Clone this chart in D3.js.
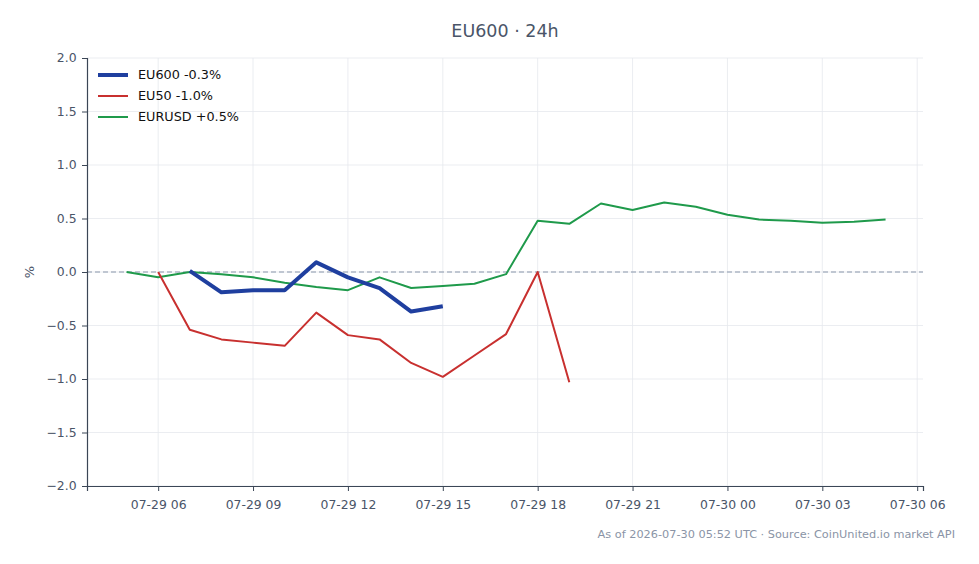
<!DOCTYPE html>
<html>
<head>
<meta charset="utf-8">
<script src="https://cdn.jsdelivr.net/npm/d3@7"></script>
<style>
  body { margin: 0; background: #fff; }
  svg { font-family: "DejaVu Sans", sans-serif; }
</style>
</head>
<body>
<svg id="chart" width="979" height="564"></svg>
<script>
// hourly timestamps (UTC)
var hours = ["2026-07-29T05:00Z","2026-07-29T06:00Z","2026-07-29T07:00Z","2026-07-29T08:00Z",
  "2026-07-29T09:00Z","2026-07-29T10:00Z","2026-07-29T11:00Z","2026-07-29T12:00Z",
  "2026-07-29T13:00Z","2026-07-29T14:00Z","2026-07-29T15:00Z","2026-07-29T16:00Z",
  "2026-07-29T17:00Z","2026-07-29T18:00Z","2026-07-29T19:00Z","2026-07-29T20:00Z",
  "2026-07-29T21:00Z","2026-07-29T22:00Z","2026-07-29T23:00Z","2026-07-30T00:00Z",
  "2026-07-30T01:00Z","2026-07-30T02:00Z","2026-07-30T03:00Z","2026-07-30T04:00Z",
  "2026-07-30T05:00Z"];

var eu600 = [null, null, 0.01, -0.19, -0.17, -0.17, 0.09, -0.05, -0.15, -0.37, -0.32,
  null, null, null, null, null, null, null, null, null, null, null, null, null, null];
var eu50 = [null, 0.0, -0.54, -0.63, -0.66, -0.69, -0.38, -0.59, -0.63, -0.85, -0.98,
  -0.78, -0.58, 0.0, -1.03, null, null, null, null, null, null, null, null, null, null];
var eurusd = [0.0, -0.05, 0.0, -0.02, -0.05, -0.10, -0.14, -0.17, -0.05, -0.15, -0.13,
  -0.11, -0.02, 0.48, 0.45, 0.64, 0.58, 0.65, 0.61, 0.535, 0.49, 0.48, 0.46, 0.47, 0.49];

var seriesNames = ["EU600 -0.3%", "EU50 -1.0%", "EURUSD +0.5%"];
var seriesColors = ["#1f3f9f", "#c8302f", "#1f9a4b"];
var seriesWidths = [4, 2, 2];
var yTicks = [-2.0, -1.5, -1.0, -0.5, 0.0, 0.5, 1.0, 1.5, 2.0];

var svg = d3.select("#chart");
var margin = {left: 87, right: 56, top: 58, bottom: 78};
var W = 979, H = 564;

var times = hours.map(function(h) { return new Date(h); });
var t0 = times[0], t1 = times[times.length - 1];

// axis range runs a little past the data on both sides
var x = d3.scaleUtc()
  .domain([d3.utcMinute.offset(t0, -75), d3.utcMinute.offset(t1, 71)])
  .range([margin.left, W - margin.right]);
var y = d3.scaleLinear()
  .domain([-2, 2])
  .range([H - margin.bottom, margin.top]);

var xTicks = x.ticks(d3.utcHour.every(3));

// grid
var grid = svg.append("g");
grid.selectAll(".gx").data(xTicks).enter().append("line")
  .attr("x1", d => x(d)).attr("x2", d => x(d))
  .attr("y1", margin.top).attr("y2", H - margin.bottom)
  .attr("stroke", "#e6e9ee").attr("stroke-width", 0.8);
grid.selectAll(".gy").data(yTicks).enter().append("line")
  .attr("x1", margin.left).attr("x2", W - margin.right)
  .attr("y1", d => y(d)).attr("y2", d => y(d))
  .attr("stroke", "#e6e9ee").attr("stroke-width", 0.8);

// zero line
svg.append("line")
  .attr("x1", margin.left).attr("x2", W - margin.right)
  .attr("y1", y(0)).attr("y2", y(0))
  .attr("stroke", "#8a97ab").attr("stroke-width", 1)
  .attr("stroke-dasharray", "5,3");

// axes
var xAxis = svg.append("g")
  .attr("transform", "translate(0," + (H - margin.bottom) + ")")
  .call(d3.axisBottom(x).tickValues(xTicks).tickFormat(d3.utcFormat("%m-%d %H")).tickSizeOuter(0).tickSize(5));
var yAxis = svg.append("g")
  .attr("transform", "translate(" + margin.left + ",0)")
  .call(d3.axisLeft(y).tickValues(yTicks).tickFormat(d3.format(".1f")).tickSizeOuter(0).tickSize(5));

[xAxis, yAxis].forEach(function(a) {
  a.select(".domain").attr("stroke", "#3b4656").attr("stroke-width", 1.2);
  a.selectAll(".tick line").attr("stroke", "#3b4656");
  a.selectAll(".tick text").attr("fill", "#4a5568").attr("font-size", 12.4)
    .attr("font-family", "DejaVu Sans, sans-serif");
});
xAxis.selectAll(".tick text").attr("dy", "1.2em");
yAxis.selectAll(".tick text").attr("dx", "-0.2em");

// y label
svg.append("text")
  .attr("transform", "translate(34," + y(0) + ") rotate(-90)")
  .attr("text-anchor", "middle")
  .attr("fill", "#4a5568").attr("font-size", 13)
  .text("%");

// lines
var allSeries = [eu600, eu50, eurusd];
var line = d3.line()
  .defined(d => d.v != null)
  .x(d => x(d.t)).y(d => y(d.v));

// draw green first, then red, then blue on top
[2, 1, 0].forEach(function(i) {
  var pts = allSeries[i].map(function(v, k) { return {t: times[k], v: v}; });
  svg.append("path")
    .datum(pts)
    .attr("d", line)
    .attr("fill", "none")
    .attr("stroke", seriesColors[i])
    .attr("stroke-width", seriesWidths[i])
    .attr("stroke-linejoin", "round");
});

// legend
var legend = svg.append("g").attr("transform", "translate(98,75)");
seriesNames.forEach(function(name, i) {
  var row = legend.append("g").attr("transform", "translate(0," + (i * 21) + ")");
  row.append("line").attr("x1", 0).attr("x2", 30).attr("y1", 0).attr("y2", 0)
    .attr("stroke", seriesColors[i]).attr("stroke-width", seriesWidths[i]);
  row.append("text").attr("x", 40).attr("y", 0).attr("dy", "0.35em")
    .attr("font-size", 12.8).attr("fill", "#111").text(name);
});

// title
svg.append("text")
  .attr("x", 505).attr("y", 37)
  .attr("text-anchor", "middle")
  .attr("font-size", 17.5).attr("fill", "#4a5568")
  .text("EU600 \u00b7 24h");

// footer
svg.append("text")
  .attr("x", 955).attr("y", 538)
  .attr("text-anchor", "end")
  .attr("font-size", 11.3).attr("fill", "#8a94a6")
  .text("As of 2026-07-30 05:52 UTC \u00b7 Source: CoinUnited.io market API");
</script>
</body>
</html>
